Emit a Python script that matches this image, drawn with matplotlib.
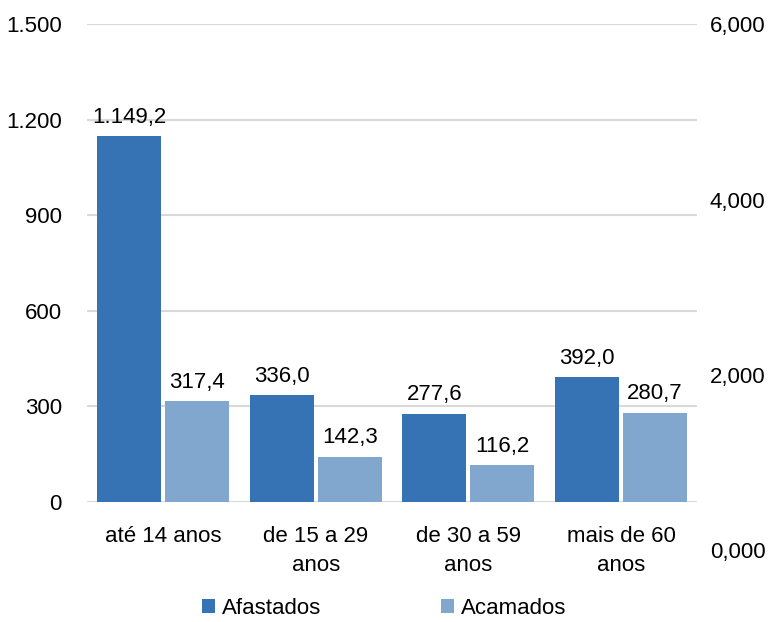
import matplotlib
matplotlib.use("Agg")
import matplotlib.pyplot as plt
import numpy as np

plt.rcParams['font.family'] = ['Liberation Sans', 'DejaVu Sans']
FS = 16

categories = ["até 14 anos", "de 15 a 29\nanos", "de 30 a 59\nanos", "mais de 60\nanos"]
afastados = [1149.2, 336.0, 277.6, 392.0]
acamados = [317.4, 142.3, 116.2, 280.7]
left_ticks = [0, 300, 600, 900, 1200, 1500]
right_ticks = [0, 2, 4, 6]

c_dark = "#3673B4"
c_light = "#81A7CF"

def fmt_pt(v):
    s = f"{v:,.1f}"
    return s.replace(",", "X").replace(".", ",").replace("X", ".")

fig = plt.figure(figsize=(7.68, 6.22), dpi=100)
ax = fig.add_axes([0.113, 0.193, 0.795, 0.768])

x = np.arange(len(categories))
w = 0.42
gap = 0.013
b1 = ax.bar(x - w/2 - gap, afastados, w, color=c_dark, label="Afastados", zorder=3)
b2 = ax.bar(x + w/2 + gap, acamados, w, color=c_light, label="Acamados", zorder=3)

for rect, v in zip(b1, afastados):
    ax.annotate(fmt_pt(v), (rect.get_x() + rect.get_width()/2, v), xytext=(0, 6),
                textcoords='offset points', ha='center', va='bottom', fontsize=FS)
for rect, v in zip(b2, acamados):
    ax.annotate(fmt_pt(v), (rect.get_x() + rect.get_width()/2, v), xytext=(0, 6),
                textcoords='offset points', ha='center', va='bottom', fontsize=FS)

ax.set_xlim(-0.5, len(categories) - 0.5)
ax.set_ylim(0, 1500)
ax.set_yticks(left_ticks)
ax.set_yticklabels([f"{t:,}".replace(",", ".") for t in left_ticks], fontsize=FS)
ax.set_xticks(x)
ax.set_xticklabels(categories, fontsize=FS, linespacing=1.5)
ax.tick_params(axis='both', length=0)
ax.tick_params(axis='y', pad=18)
ax.tick_params(axis='x', pad=17)
for s in ax.spines.values():
    s.set_visible(False)
ax.yaxis.grid(True, color="#d9d9d9", linewidth=1.5, zorder=0)
ax.set_axisbelow(True)

ax2 = fig.add_axes([0.113, 0.115, 0.795, 0.846])
ax2.patch.set_visible(False)
for s in ax2.spines.values():
    s.set_visible(False)
ax2.set_ylim(0, 6)
ax2.set_xticks([])
ax2.yaxis.tick_right()
ax2.set_yticks(right_ticks)
ax2.set_yticklabels([f"{t:.3f}".replace(".", ",") for t in right_ticks], fontsize=FS)
ax2.tick_params(axis='y', length=0, pad=9)

fig.legend(handles=[b1, b2], labels=["Afastados", "Acamados"], loc='center',
           bbox_to_anchor=(0.5, 0.022), ncol=2, frameon=False, fontsize=FS,
           handlelength=0.6, handleheight=0.6, handletextpad=0.3, columnspacing=5.4)

fig.savefig("out.png", dpi=100)
